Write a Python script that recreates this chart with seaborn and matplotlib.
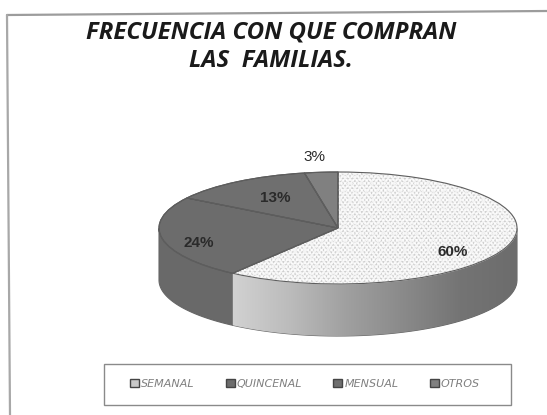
import numpy as np
import matplotlib
matplotlib.use("Agg")
import matplotlib.pyplot as plt
import seaborn as sns
from matplotlib.lines import Line2D
from matplotlib.patches import Rectangle

# datos del grafico
categorias = ["SEMANAL", "QUINCENAL", "MENSUAL", "OTROS"]
porcentajes = [60, 24, 13, 3]
colores_top = ["#cfcfcf", "#6c6c6c", "#6f6f6f", "#808080"]
colores_lado = ["#9a9a9a", "#696969", "#696969", "#696969"]
titulo = "FRECUENCIA CON QUE COMPRAN\nLAS  FAMILIAS."

W, H = 547, 415
DEPTH = 52 / 56  # altura del cilindro en unidades de y

sns.set_style("white")
plt.rcParams["hatch.linewidth"] = 1.0
plt.rcParams["font.family"] = ["DejaVu Sans"]

fig = plt.figure(figsize=(W / 100, H / 100), dpi=100)

# eje aplastado para que el pie salga como elipse
rx, ry, cx, cy = 179, 56, 338, 228
ax = fig.add_axes([(cx - 1.2 * rx) / W, (H - cy - 2.2 * ry) / H, 2.4 * rx / W, 3.4 * ry / H])

# lados del cilindro
angulos = 90 - np.cumsum([0] + porcentajes) * 3.6
for i in range(len(porcentajes)):
    a1, a2 = angulos[i + 1], angulos[i]
    # solo la parte de delante (entre 180 y 360 grados) se ve
    t = np.radians(np.linspace(a1, a2, 80) % 360)
    t = t[np.sin(t) <= 0]
    if len(t) == 0:
        continue
    xs = np.r_[np.cos(t), np.cos(t[::-1])]
    ys = np.r_[np.sin(t), np.sin(t[::-1]) - DEPTH]
    lado = ax.fill(xs, ys, color=colores_lado[i], ec="#666666", lw=0.8, zorder=1)[0]
    if i == 0:
        cmap = sns.blend_palette(["#d2d2d2", "#bcbcbc", "#a0a0a0", "#8a8a8a", "#747474", "#6c6c6c"], as_cmap=True)
        grad = np.linspace(0, 1, 256).reshape(1, -1)
        im = ax.imshow(grad, extent=(-0.6, 1, -2, 0), aspect="auto", cmap=cmap, zorder=1.5)
        im.set_clip_path(lado)

# cara de arriba
wedges, _ = ax.pie(porcentajes, colors=colores_top, startangle=90, counterclock=False, radius=1,
                   wedgeprops={"edgecolor": "#555555", "linewidth": 0.8, "zorder": 3})
wedges[0].set_hatch("xxxxxxx")
wedges[0].set_edgecolor("#f4f4f4")

# moteado blanco encima, con otro patron
capa, _ = ax.pie(porcentajes[:1] + [100 - porcentajes[0]], colors=["none", "none"], startangle=90,
                 counterclock=False, radius=1, wedgeprops={"linewidth": 0, "zorder": 3.5})
capa[0].set_hatch(".....")
capa[0].set_edgecolor("#ffffff")
capa[1].set_visible(False)

ax.pie(porcentajes, colors=["none"] * 4, startangle=90, counterclock=False, radius=1,
       wedgeprops={"edgecolor": "#5e5e5e", "linewidth": 0.8, "zorder": 4})

ax.set_aspect("auto")
ax.set_xlim(-1.2, 1.2)
ax.set_ylim(-2.2, 1.2)
ax.axis("off")

# etiquetas
etiquetas = [f"{p}%" for p in porcentajes]
pos_etiquetas = [(0.64, -0.43), (-0.78, -0.27), (-0.35, 0.54), (-0.13, 1.27)]
for txt, (x, y), peso in zip(etiquetas, pos_etiquetas, ["bold", "bold", "bold", "normal"]):
    ax.text(x, y, txt, ha="center", va="center", fontsize=11, fontweight=peso,
            color="#2a2a2a", zorder=6, fontfamily="Liberation Sans")

fig.text(271 / W, 1 - 47 / H, titulo, ha="center", va="center", fontsize=17.3, fontweight="bold",
         fontstyle="italic", color="#1a1a1a", linespacing=1.25, fontfamily="Open Sans")

# marco exterior (solo arriba e izquierda)
fig.add_artist(Line2D([7 / W, 1], [1 - 15 / H, 1 - 11 / H], color="#9c9c9c", lw=1.6))
fig.add_artist(Line2D([7 / W, 10 / W], [1 - 15 / H, 0], color="#a8a8a8", lw=1.6))

# leyenda
fig.add_artist(Rectangle((104 / W, 1 - 405 / H), 407 / W, 41 / H, transform=fig.transFigure,
                         fill=False, ec="#8a8a8a", lw=1.0))
handles = [Rectangle((0, 0), 1, 1, fc=c, ec="#444444", lw=1.0) for c in ["#c8c8c8", "#6c6c6c", "#6f6f6f", "#808080"]]
fig.legend(handles, categorias, ncol=4, frameon=False, loc="center", bbox_to_anchor=(305 / W, 1 - 384 / H),
           handlelength=0.8, handleheight=0.8, handletextpad=0.2, columnspacing=2.8,
           prop={"size": 8, "style": "italic"}, labelcolor="#808080")

fig.savefig("out.png", dpi=100)
